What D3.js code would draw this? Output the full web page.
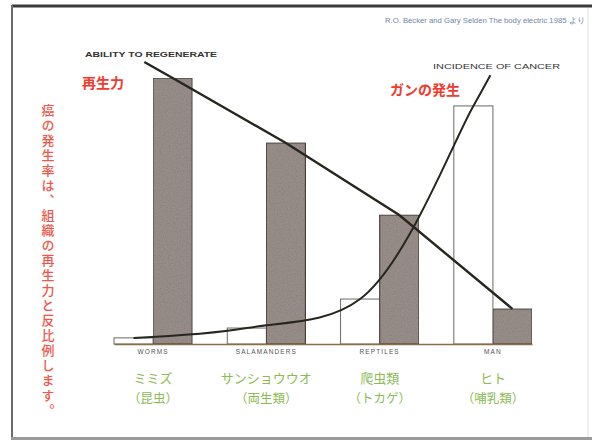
<!DOCTYPE html>
<html>
<head>
<meta charset="utf-8">
<script src="https://cdn.jsdelivr.net/npm/d3@7"></script>
<style>
  body { margin: 0; background: #fff; }
  svg { display: block; }
</style>
</head>
<body>
<script>
// 再生力とガンの発生 (Becker & Selden)
var categories = ["WORMS", "SALAMANDERS", "REPTILES", "MAN"];
var jpNames = ["ミミズ", "サンショウウオ", "爬虫類", "ヒト"];
var jpGroups = ["（昆虫）", "（両生類）", "（トカゲ）", "（哺乳類）"];
var regeneration = [100, 75.6, 48.5, 13.2];
var cancer = [2.3, 6.0, 16.9, 89.5];
// leader end of each curve: category, shift in steps, value
var regenLeader = ["WORMS", -0.25, 106];
var cancerLeader = ["MAN", 0.15, 101];

var w = 592, h = 441;

var svg = d3.select("body").append("svg")
    .attr("width", w)
    .attr("height", h);

// grain for the dark bars (scanned look)
var filt = svg.append("defs").append("filter")
    .attr("id", "grain")
    .attr("x", 0).attr("y", 0).attr("width", 1).attr("height", 1);
filt.append("feTurbulence")
    .attr("type", "fractalNoise").attr("baseFrequency", 0.85)
    .attr("numOctaves", 2).attr("seed", 4).attr("result", "noise");
filt.append("feColorMatrix")
    .attr("in", "noise").attr("type", "saturate").attr("values", 0).attr("result", "gray");
var ct = filt.append("feComponentTransfer").attr("in", "gray").attr("result", "soft");
["feFuncR", "feFuncG", "feFuncB"].forEach(function(f) {
    ct.append(f).attr("type", "linear").attr("slope", 0.5).attr("intercept", 0.72);
});
ct.append("feFuncA").attr("type", "linear").attr("slope", 0).attr("intercept", 1);
filt.append("feBlend").attr("in", "SourceGraphic").attr("in2", "soft")
    .attr("mode", "multiply").attr("result", "mix");
filt.append("feComposite").attr("in", "mix").attr("in2", "SourceGraphic").attr("operator", "in");

// frame of the slide
svg.append("line").attr("x1", 12).attr("x2", w).attr("y1", 6).attr("y2", 6)
    .attr("stroke", "#3a3a3a").attr("stroke-width", 3);
svg.append("line").attr("x1", 12).attr("x2", 12).attr("y1", 5).attr("y2", 438)
    .attr("stroke", "#6d6d6d").attr("stroke-width", 2);
svg.append("line").attr("x1", 11).attr("x2", w).attr("y1", 438.5).attr("y2", 438.5)
    .attr("stroke", "#9a9a9a").attr("stroke-width", 3);
svg.append("line").attr("x1", 588).attr("x2", 588).attr("y1", 8).attr("y2", 437)
    .attr("stroke", "#e2e2e2").attr("stroke-width", 1);

var x0 = d3.scaleBand()
    .domain(categories)
    .range([114, 532])
    .paddingInner(0.31)
    .paddingOuter(0);

var x1 = d3.scaleBand()
    .domain(["cancer", "regen"])
    .range([0, x0.bandwidth()]);

var y = d3.scaleLinear()
    .domain([0, 100])
    .range([344, 78]);

function cx(cat, key) {
    return x0(cat) + x1(key) + x1.bandwidth() / 2;
}

// 白い棒 = ガンの発生
svg.selectAll("rect.cancer")
    .data(cancer)
    .enter()
    .append("rect")
    .attr("class", "cancer")
    .attr("x", function(d, i) { return x0(categories[i]) + x1("cancer"); })
    .attr("y", function(d) { return y(d); })
    .attr("width", x1.bandwidth())
    .attr("height", function(d) { return y(0) - y(d); })
    .attr("fill", "#fff")
    .attr("stroke", "#6a6a66")
    .attr("stroke-width", 1);

// 濃い棒 = 再生力
svg.selectAll("rect.regen")
    .data(regeneration)
    .enter()
    .append("rect")
    .attr("class", "regen")
    .attr("x", function(d, i) { return x0(categories[i]) + x1("regen"); })
    .attr("y", function(d) { return y(d); })
    .attr("width", x1.bandwidth())
    .attr("height", function(d) { return y(0) - y(d); })
    .attr("fill", "#968c88")
    .attr("stroke", "#4a423b")
    .attr("stroke-width", 1.2)
    .attr("filter", "url(#grain)");

// baseline + category labels
var axis = svg.append("g")
    .attr("transform", "translate(0," + y(0) + ")")
    .call(d3.axisBottom(x0).tickSize(0).tickPadding(5));
axis.select(".domain").attr("stroke", "#8d6d45").attr("stroke-width", 1.5);
axis.selectAll("text")
    .attr("font-family", "Liberation Sans, Arial, sans-serif")
    .attr("font-size", 6.5)
    .attr("fill", "#555")
    .attr("letter-spacing", 1.1);

// 再生力の線
var regenPts = [[cx(regenLeader[0], "regen") + regenLeader[1] * x0.step(), y(regenLeader[2])]];
regeneration.forEach(function(d, i) { regenPts.push([cx(categories[i], "regen"), y(d)]); });
svg.append("path")
    .attr("d", d3.line()(regenPts))
    .attr("fill", "none")
    .attr("stroke", "#27261e")
    .attr("stroke-width", 2.4);

// ガンの発生の曲線
var cancerPts = [];
cancer.forEach(function(d, i) { cancerPts.push([cx(categories[i], "cancer"), y(d)]); });
cancerPts.push([cx(cancerLeader[0], "cancer") + cancerLeader[1] * x0.step(), y(cancerLeader[2])]);
svg.append("path")
    .attr("d", d3.line().curve(d3.curveCatmullRom.alpha(0.5))(cancerPts))
    .attr("fill", "none")
    .attr("stroke", "#27261e")
    .attr("stroke-width", 2);

// english labels of curves
svg.append("text")
    .attr("x", 85).attr("y", 57)
    .attr("font-family", "Liberation Sans, Arial, sans-serif")
    .attr("font-size", 7.5).attr("font-weight", "bold")
    .attr("textLength", 132).attr("lengthAdjust", "spacingAndGlyphs")
    .attr("fill", "#333")
    .text("ABILITY TO REGENERATE");
svg.append("text")
    .attr("x", 433).attr("y", 69)
    .attr("font-family", "Liberation Sans, Arial, sans-serif")
    .attr("font-size", 7.5)
    .attr("textLength", 127).attr("lengthAdjust", "spacingAndGlyphs")
    .attr("fill", "#333")
    .text("INCIDENCE OF CANCER");

// red japanese labels
var jp = "Noto Sans CJK JP, sans-serif";
svg.append("text")
    .attr("x", 82).attr("y", 88)
    .attr("font-family", jp).attr("font-size", 14).attr("font-weight", "bold")
    .attr("fill", "#ef3b30")
    .text("再生力");
svg.append("text")
    .attr("x", 390).attr("y", 95)
    .attr("font-family", jp).attr("font-size", 14).attr("font-weight", "bold")
    .attr("fill", "#ef3b30")
    .text("ガンの発生");

svg.append("text")
    .attr("x", 48).attr("y", 104)
    .attr("font-family", jp).attr("font-size", 13).attr("font-weight", 500)
    .attr("fill", "#f0574a")
    .attr("letter-spacing", 2)
    .style("writing-mode", "vertical-rl")
    .text("癌の発生率は、組織の再生力と反比例します。");

// green japanese names under the bars
svg.selectAll("text.jpname")
    .data(jpNames)
    .enter()
    .append("text")
    .attr("class", "jpname")
    .attr("x", function(d, i) { return x0(categories[i]) + x0.bandwidth() / 2; })
    .attr("y", 383)
    .attr("text-anchor", "middle")
    .attr("font-family", jp).attr("font-size", 13)
    .attr("fill", "#8cbb55")
    .text(function(d) { return d; });
svg.selectAll("text.jpgroup")
    .data(jpGroups)
    .enter()
    .append("text")
    .attr("class", "jpgroup")
    .attr("x", function(d, i) { return x0(categories[i]) + x0.bandwidth() / 2; })
    .attr("y", 403)
    .attr("text-anchor", "middle")
    .attr("font-family", jp).attr("font-size", 12.5)
    .attr("fill", "#8cbb55")
    .text(function(d) { return d; });

// citation
svg.append("text")
    .attr("x", 385).attr("y", 23)
    .attr("font-family", "Liberation Sans, Arial, sans-serif")
    .attr("font-size", 7.5)
    .attr("textLength", 200).attr("lengthAdjust", "spacingAndGlyphs")
    .attr("fill", "#7286a6")
    .text("R.O. Becker and Gary Selden  The body electric  1985 より");
</script>
</body>
</html>
